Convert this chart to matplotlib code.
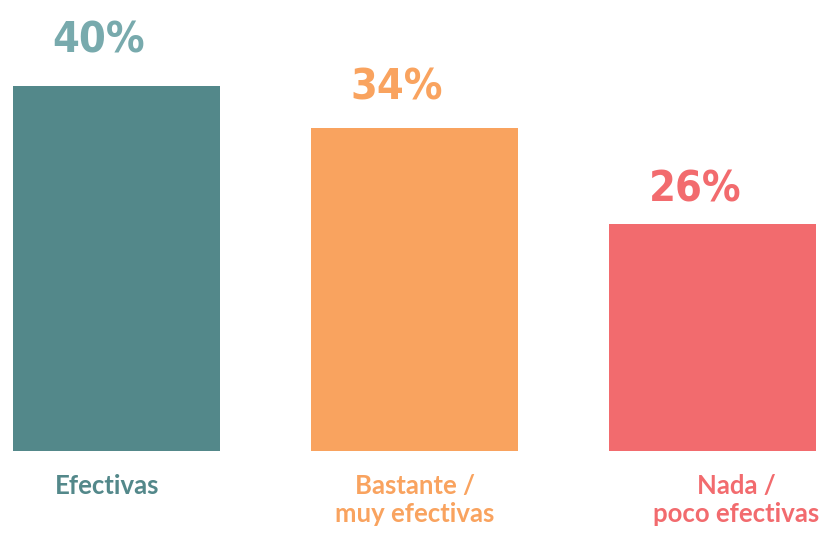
import matplotlib
matplotlib.use("Agg")
import matplotlib.pyplot as plt
from matplotlib import font_manager

# datos
categories = ["Efectivas", "Bastante /\nmuy efectivas", "Nada /\npoco efectivas"]
labels = ["40%", "34%", "26%"]
bar_values = [40, 35.4, 24.9]   # alturas
bar_colors = ["#53888a", "#f9a35f", "#f26b6e"]
label_colors = ["#78aaad", "#f9a35f", "#f26b6e"]
label_offset = [3.7, 3.1, 2.4]
cat_shift = [-0.03, 0.0, 0.08]

# fuente estrecha para los porcentajes, si existe
names = set(f.name for f in font_manager.fontManager.ttflist)
if "Liberation Sans Narrow" in names:
    num_font = dict(family=["Liberation Sans Narrow", "DejaVu Sans"], fontsize=34)
else:
    num_font = dict(family=["DejaVu Sans"], fontstretch="condensed", fontsize=31)

fig = plt.figure(figsize=(8.22, 5.38), dpi=100)
ax = fig.add_axes([0, 0, 1, 1])
x = range(len(categories))
ax.bar(x, bar_values, width=0.695, color=bar_colors)
ax.set_xlim(-0.391, 2.367)
ax.set_ylim(-9.53, 49.4)
ax.axis("off")

for i in x:
    ax.text(i - 0.06, bar_values[i] + label_offset[i], labels[i], ha="center",
            va="baseline", fontweight="bold", color=label_colors[i], **num_font)
    ax.text(i + cat_shift[i], -2.55, categories[i], ha="center", va="top",
            fontsize=18.5, fontweight="bold", family=["Lato", "DejaVu Sans"],
            color=bar_colors[i], linespacing=1.18)

plt.savefig("out.png", dpi=100)
